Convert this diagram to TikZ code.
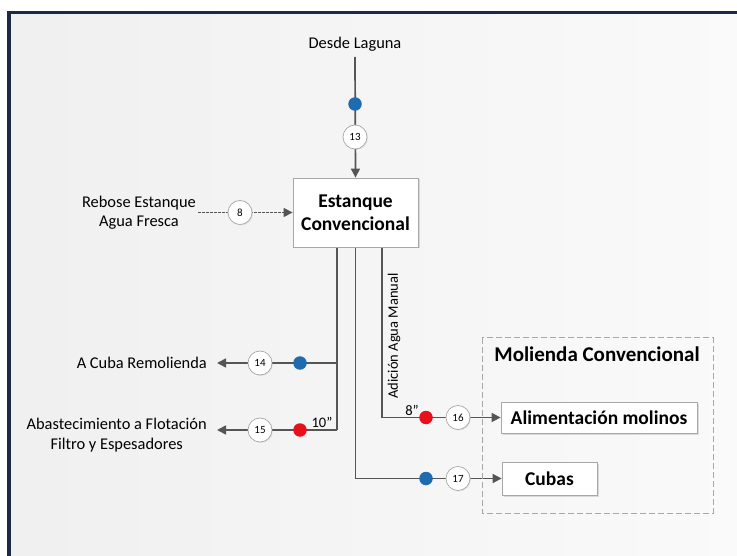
\documentclass[tikz,border=0pt]{standalone}
\usepackage{fontspec}
\setmainfont{Carlito}
\usetikzlibrary{arrows.meta,shadows}
\definecolor{linec}{HTML}{555555}
\definecolor{framec}{HTML}{1C2A44}
\definecolor{boxc}{HTML}{A8A8A8}
\definecolor{blueC}{HTML}{1F6BB0}
\definecolor{redC}{HTML}{E8101A}
\pgfdeclarelayer{bg}
\pgfsetlayers{bg,main}
\begin{document}
\begin{tikzpicture}[x=1pt,y=-1pt,
  pipe/.style={draw=linec, line width=1.7pt},
  arr/.style={-{Triangle[length=9pt,width=9pt]}},
  num/.style={circle, draw=boxc, line width=0.7pt, fill=white, minimum size=24pt, inner sep=0pt,
    font=\fontsize{11}{13}\selectfont, drop shadow={opacity=0.15, shadow xshift=1pt, shadow yshift=-1pt}},
  vblue/.style={circle, fill=blueC, minimum size=13.5pt, inner sep=0pt},
  vred/.style={circle, fill=redC, minimum size=13.5pt, inner sep=0pt},
  lbl/.style={font=\fontsize{16.4}{19.5}\selectfont, align=center},
  small/.style={font=\fontsize{14.5}{17}\selectfont},
  unit/.style={draw=boxc, line width=0.8pt, fill=white, inner sep=0pt,
    drop shadow={opacity=0.25, shadow xshift=1.5pt, shadow yshift=-1.5pt}},
  bold/.style={font=\bfseries\fontsize{19.5}{23.5}\selectfont, align=center}
]
\useasboundingbox (0,0) rectangle (737,556);
\begin{pgfonlayer}{bg}
  \fill[white] (0,0) rectangle (737,556);
  \shade[left color=black!6, right color=black!2] (9,12) rectangle (737,556);
  \draw[framec, line width=3.2pt] (9,556) -- (9,12.6) -- (737,12.6);
\end{pgfonlayer}

% main unit
\node[unit, bold, minimum width=125pt, minimum height=69pt] (tank) at (355.5,212.5) {Estanque\\Convencional};

% texts
\node[lbl] (laguna) at (355,44) {Desde Laguna};
\coordinate (lagtop) at (355,57);
\node[lbl, anchor=east, inner xsep=0pt] (rebose) at (196,212.5) {Rebose Estanque\\Agua Fresca};
\coordinate (rebend) at (198,212.5);
\node[lbl, anchor=east, inner xsep=10pt] (remol) at (217,363) {A Cuba Remolienda};
\node[lbl, anchor=east, inner xsep=10pt] (abast) at (217,435) {Abastecimiento a Flotación\\Filtro y Espesadores};

% Molienda group
\draw[boxc, line width=1pt, dash pattern=on 6pt off 3pt] (482,338) rectangle (713,513);
\node[font=\bfseries\fontsize{21}{25}\selectfont] (moltitle) at (597,354) {Molienda Convencional};
\node[unit, bold, minimum width=196pt, minimum height=31pt] (alim) at (599,417.5) {Alimentación molinos};
\node[unit, bold, minimum width=95pt, minimum height=33pt] (cubas) at (549.5,478.5) {Cubas};

% outlets
\coordinate (o1) at (337,247);
\coordinate (o2) at (355.5,247);
\coordinate (o3) at (382,247);
\coordinate (j14) at (337,363);
\coordinate (j15) at (337,430);
\coordinate (j16) at (382,417.5);
\coordinate (j17) at (355.5,478.5);

% valves and stream numbers
\node[vblue] (d13) at (355,104) {};
\node[num] (n13) at (355,137) {13};
\node[num] (n8) at (240,212.5) {8};
\node[vblue] (d14) at (300,363) {};
\node[num] (n14) at (260,363) {14};
\node[vred] (d15) at (300,430) {};
\node[num] (n15) at (260,430) {15};
\node[vred] (d16) at (426,417.5) {};
\node[num] (n16) at (458,417.5) {16};
\node[vblue] (d17) at (426,478.5) {};
\node[num] (n17) at (458,478.5) {17};

\node[small] (s10) at (322,422.5) {10"};
\node[small] (s8) at (412,410.5) {8"};
\node[small, rotate=90] (adic) at (394,336) {Adición Agua Manual};

\begin{pgfonlayer}{bg}
  \draw[pipe, arr] (lagtop) -- (tank.north);
  \draw[pipe, arr, dash pattern=on 2.5pt off 1.5pt, line width=1.3pt] (rebend) -- (tank.west);
  \draw[pipe] (o1) -- (j15);
  \draw[pipe, arr] (j14) -- (remol.east);
  \draw[pipe, arr] (j15) -- (abast.east |- j15);
  \draw[pipe] (o3) -- (j16);
  \draw[pipe, arr] (j16) -- (alim.west);
  \draw[pipe] (o2) -- (j17);
  \draw[pipe, arr] (j17) -- (cubas.west);
\end{pgfonlayer}
\end{tikzpicture}
\end{document}
